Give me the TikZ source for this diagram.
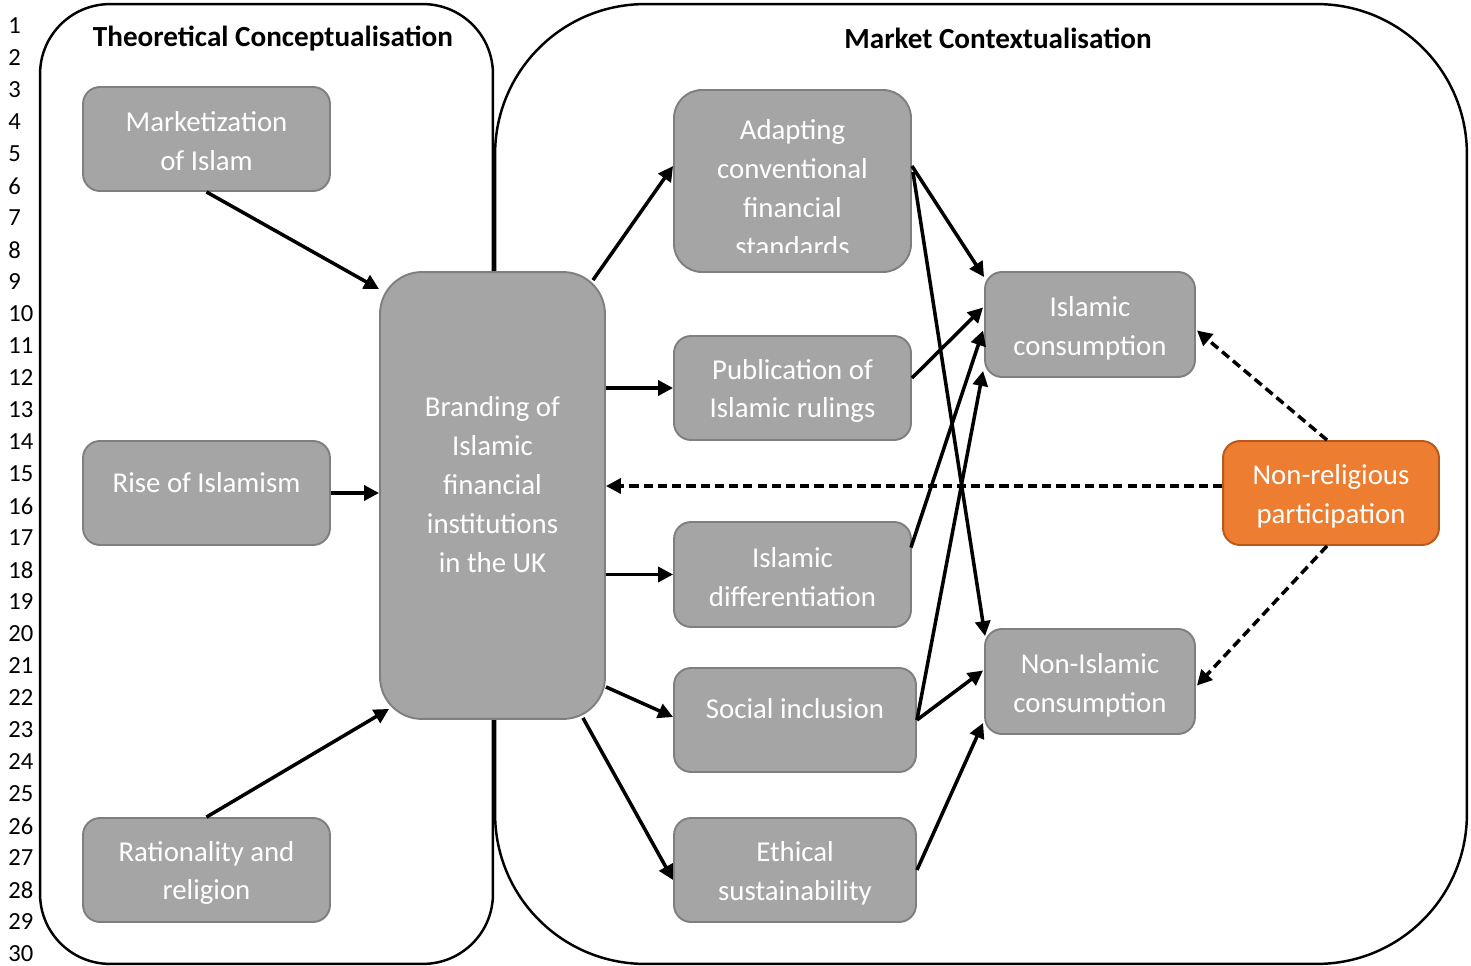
\documentclass[tikz,border=0pt]{standalone}
\usepackage{fontspec}
\setmainfont{Carlito}
\usetikzlibrary{arrows.meta,calc}
\definecolor{boxgrey}{HTML}{A5A5A5}
\definecolor{boxline}{HTML}{7F7F7F}
\definecolor{nrfill}{HTML}{ED7D31}
\definecolor{nrline}{HTML}{B8581A}
\begin{document}
\begin{tikzpicture}[x=0.02cm,y=-0.02cm,
  frame/.style={draw=black,line width=1.4pt,inner sep=0pt,rectangle},
  concept/.style={draw=boxline,fill=boxgrey,line width=1.1pt,rectangle,
    rounded corners=0.34cm,inner sep=0pt,align=center,text=white,
    font=\fontsize{16.4}{22.1}\selectfont},
  label/.style={concept,draw=none,fill=none},
  orangebox/.style={concept,draw=nrline,fill=nrfill},
  heading/.style={font=\fontsize{16.6}{20}\selectfont\bfseries},
  lineno/.style={anchor=west,inner sep=0pt,font=\fontsize{14}{16}\selectfont},
  link/.style={line width=2pt,-{Triangle[length=8.5pt,width=8.5pt]}},
  dlink/.style={link,dash pattern=on 5.2pt off 2.9pt}]
\useasboundingbox (0,0) rectangle (1471,966);

% line numbers in the margin
\foreach \n in {1,...,30}
  \node[lineno] (ln\n) at (8,{26+32*(\n-1)}) {\n};

% the two panels
\node[frame,rounded corners=1.4cm,minimum width=9.06cm,minimum height=19.2cm] (panelL) at (266.5,484) {};
\node[frame,rounded corners=3.0cm,minimum width=19.44cm,minimum height=19.2cm] (panelR) at (981,484) {};
\node[heading] (titleL) at (273,38.5) {Theoretical Conceptualisation};
\node[heading] (titleR) at (998,38.5) {Market Contextualisation};

% theoretical concepts
\node[concept,minimum width=4.94cm,minimum height=2.08cm] (mkt) at (206.5,139) {};
\node[label] (mkttext) at (206.5,141) {Marketization\\of Islam};
\node[concept,minimum width=4.94cm,minimum height=2.08cm] (rise) at (206.5,493) {};
\node[label] (risetext) at (206.5,482.5) {Rise of Islamism};
\node[concept,minimum width=4.94cm,minimum height=2.08cm] (rat) at (206.5,870) {};
\node[label] (rattext) at (206.5,873) {Rationality and\\religion};

% central node
\node[concept,rounded corners=0.84cm,minimum width=4.5cm,minimum height=8.94cm] (brand) at (492.5,495.5) {};
\node[label] (brandtext) at (492.5,484.5)
  {Branding of\\Islamic\\financial\\institutions\\in the UK};

% market strategies
\node[concept,rounded corners=0.56cm,minimum width=4.74cm,minimum height=3.64cm] (adapt) at (792.5,181) {};
\begin{scope}
  \clip (680,95) rectangle (905,252.5);
  \node[label] (adapttext) at (792.5,188)
    {Adapting\\conventional\\financial\\standards};
\end{scope}
\node[concept,minimum width=4.74cm,minimum height=2.08cm] (pub) at (792.5,388) {};
\node[label] (pubtext) at (792.5,391) {Publication of\\Islamic rulings};
\node[concept,minimum width=4.74cm,minimum height=2.1cm] (idiff) at (792.5,574.5) {};
\node[label] (idifftext) at (792.5,577) {Islamic\\differentiation};
\node[concept,minimum width=4.84cm,minimum height=2.08cm] (soc) at (795,720) {};
\node[label] (soctext) at (795,709) {Social inclusion};
\node[concept,minimum width=4.84cm,minimum height=2.08cm] (eth) at (795,870) {};
\node[label] (ethtext) at (795,873) {Ethical\\sustainability};

% consumption outcomes
\node[concept,minimum width=4.2cm,minimum height=2.1cm] (icons) at (1090,324.5) {};
\node[label] (iconstext) at (1090,328) {Islamic\\consumption};
\node[concept,minimum width=4.2cm,minimum height=2.1cm] (nicons) at (1090,681.5) {};
\node[label] (niconstext) at (1090,685) {Non-Islamic\\consumption};
\node[orangebox,minimum width=4.32cm,minimum height=2.08cm] (nrel) at (1331,493) {};
\node[label] (nreltext) at (1331,496) {Non-religious\\participation};

% theory into branding
\draw[link] (mkt.south) -- ($(brand.north west)+(0,18)$);
\draw[link] (rise.east) -- (rise.east -| brand.west);
\draw[link] (rat.north) -- ($(brand.south west)+(10,-11)$);

% branding into strategies
\draw[link] ($(brand.north east)+(-13,9)$) -- ($(adapt.west)+(0,-15)$);
\draw[link] (brand.east |- pub.west) -- (pub.west);
\draw[link] (brand.east |- idiff.west) -- (idiff.west);
\draw[link] ($(brand.south east)+(0,-33)$) -- ($(soc.west)+(0,-3)$);
\draw[link] ($(brand.south east)+(-23,-2)$) -- ($(eth.west)+(0,10)$);

% strategies into consumption
\draw[link] ($(adapt.east)+(0,-15)$) -- ($(icons.north west)+(0,6)$);
\draw[link] ($(adapt.east)+(1,-9)$) -- ($(nicons.north west)+(1,8)$);
\draw[link] ($(pub.east)+(0,-10)$) -- ($(icons.west)+(-1,-17)$);
\draw[link] ($(idiff.east)+(-1,-27)$) -- ($(icons.west)+(-1,6)$);
\draw[link] (soc.east) -- ($(icons.south west)+(-1,-7)$);
\draw[link] (soc.east) -- ($(nicons.west)+(-1,-11)$);
\draw[link] (eth.east) -- ($(nicons.south west)+(-1,-12)$);

% non-religious participation
\coordinate (nrelout) at ($(nrel.west)+(0,-7)$);
\coordinate (brandin) at (nrelout -| brand.east);
\draw[dlink] ($(nrel.north)+(-4,0)$) -- ($(icons.east)+(1,6)$);
\draw[dlink] ($(nrel.south)+(-4,0)$) -- ($(nicons.east)+(1,4)$);
\draw[dlink] (nrelout) -- (brandin);
\end{tikzpicture}
\end{document}
